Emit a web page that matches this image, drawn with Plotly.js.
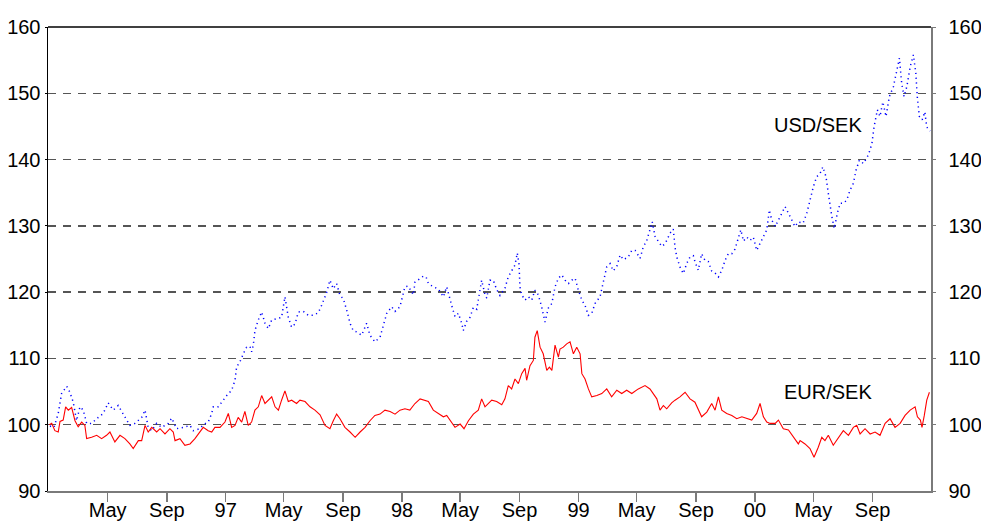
<!DOCTYPE html>
<html>
<head>
<meta charset="utf-8">
<script src="https://cdn.plot.ly/plotly-3.0.1.min.js"></script>
<style>html,body{margin:0;padding:0;background:#fff;}#chart{width:981px;height:525px;}</style>
</head>
<body>
<div id="chart"></div>
<script>
// Time as decimal years
const usdT = [1996.004,1996.027,1996.051,1996.070,1996.099,1996.117,1996.136,1996.155,1996.174,1996.193,1996.212,1996.240,1996.278,1996.306,1996.334,1996.363,1996.391,1996.429,1996.457,1996.486,1996.524,1996.543,1996.561,1996.581,1996.609,1996.637,1996.675,1996.694,1996.722,1996.760,1996.798,1996.816,1996.854,1996.873,1996.901,1996.921,1996.930,1996.958,1996.977,
1997.006,1997.034,1997.053,1997.062,1997.081,1997.100,1997.119,1997.138,1997.147,1997.156,1997.166,1997.185,1997.204,1997.223,1997.242,1997.261,1997.289,1997.317,1997.336,1997.355,1997.374,1997.393,1997.412,1997.440,1997.468,1997.497,1997.525,1997.544,1997.573,1997.591,1997.610,1997.629,1997.648,1997.667,1997.686,1997.705,1997.723,1997.743,1997.771,1997.799,1997.818,1997.846,1997.875,1997.893,1997.913,1997.941,1997.960,1997.988,1997.998,
1998.016,1998.035,1998.064,1998.073,1998.102,1998.120,1998.136,1998.149,1998.177,1998.205,1998.234,1998.253,1998.281,1998.300,1998.319,1998.338,1998.347,1998.366,1998.385,1998.404,1998.423,1998.442,1998.451,1998.470,1998.480,1998.498,1998.517,1998.536,1998.555,1998.583,1998.602,1998.621,1998.640,1998.653,1998.663,1998.668,1998.678,1998.697,1998.716,1998.735,1998.753,1998.772,1998.791,1998.810,1998.829,1998.849,1998.867,1998.886,1998.905,1998.924,1998.943,1998.962,1998.981,1998.999,
1999.019,1999.037,1999.056,1999.075,1999.094,1999.122,1999.141,1999.160,1999.179,1999.197,1999.217,1999.236,1999.254,1999.282,1999.302,1999.321,1999.349,1999.367,1999.387,1999.405,1999.418,1999.434,1999.452,1999.472,1999.491,1999.519,1999.537,1999.547,1999.557,1999.575,1999.594,1999.613,1999.632,1999.651,1999.660,1999.679,1999.698,1999.717,1999.736,1999.755,1999.774,1999.793,1999.812,1999.831,1999.849,1999.869,1999.887,1999.906,1999.920,1999.935,1999.954,1999.972,1999.991,
2000.010,2000.029,2000.048,2000.067,2000.082,2000.095,2000.115,2000.133,2000.152,2000.171,2000.190,2000.209,2000.227,2000.246,2000.273,2000.294,2000.312,2000.331,2000.350,2000.369,2000.385,2000.403,2000.416,2000.426,2000.436,2000.450,2000.467,2000.483,2000.501,2000.521,2000.539,2000.558,2000.573,2000.592,2000.615,2000.643,2000.663,2000.675,2000.694,2000.709,2000.725,2000.743,2000.762,2000.785,2000.804,2000.819,2000.832,2000.845,2000.861,2000.880,2000.898,2000.912,2000.921,2000.932,2000.948,2000.963,2000.974,2000.993];
const usdSek = [99.8,99.6,101.7,104.7,105.8,104.9,103.4,100.6,102.7,102.2,100.2,100.2,101.1,101.7,103.3,102.2,102.9,101.1,99.9,100.2,101.1,102.2,99.6,99.1,100.2,99.6,100.2,101.0,99.4,99.6,99.9,99.1,99.4,100.0,100.4,101.7,102.7,102.7,103.4,
104.4,105.2,106.7,108.7,109.5,110.7,111.7,111.8,111.0,111.9,114.2,115.8,117.0,115.3,114.5,115.8,116.0,116.2,119.3,116.2,114.7,115.2,117.0,117.1,116.5,116.5,116.9,118.0,120.0,121.8,120.5,121.3,119.5,119.0,117.3,115.3,114.2,114.0,113.5,115.3,113.5,112.5,113.2,114.9,116.8,117.8,117.1,117.8,119.0,
120.8,120.9,119.6,121.5,122.0,122.4,122.3,121.3,120.8,120.5,119.3,120.8,118.0,116.3,116.8,115.3,114.2,115.6,116.2,117.7,117.4,120.3,121.8,119.6,119.1,121.8,121.8,120.4,119.5,120.6,122.3,123.2,124.1,125.9,124.2,120.8,119.6,118.8,119.3,118.8,120.3,119.6,117.8,115.5,117.6,118.3,120.8,122.1,122.6,121.8,121.3,121.8,122.1,120.3,
118.8,118.0,116.5,116.8,118.3,119.3,121.8,123.8,124.3,123.2,123.9,125.6,124.9,125.3,126.3,126.3,125.1,126.8,127.8,129.6,130.6,128.4,127.7,126.9,127.3,128.9,129.5,126.8,125.3,123.8,122.8,124.3,125.3,125.5,124.6,123.3,125.8,124.8,124.6,123.2,122.9,122.3,123.3,124.8,125.8,125.8,126.5,128.3,129.4,127.7,128.3,127.8,128.3,
126.3,127.3,128.3,129.4,132.4,130.9,129.9,130.9,131.9,132.9,131.9,130.9,129.9,130.6,130.4,131.9,133.9,135.9,137.4,137.9,138.9,137.4,134.9,132.9,131.4,129.6,131.9,133.4,133.4,133.9,135.4,136.4,138.4,139.9,139.4,140.7,142.4,144.9,147.5,146.5,148.7,146.5,149.5,151.0,153.3,155.3,151.5,149.5,151.0,154.0,155.8,153.0,149.2,146.5,146.0,147.2,144.9,144.3];

const eurT = [1996.000,1996.014,1996.032,1996.051,1996.061,1996.079,1996.093,1996.108,1996.127,1996.146,1996.164,1996.184,1996.202,1996.212,1996.240,1996.269,1996.297,1996.325,1996.344,1996.372,1996.401,1996.429,1996.457,1996.476,1996.505,1996.524,1996.543,1996.561,1996.581,1996.609,1996.628,1996.656,1996.684,1996.703,1996.713,1996.741,1996.769,1996.798,1996.826,1996.854,1996.873,1996.901,1996.921,1996.939,1996.968,1996.996,
1997.015,1997.034,1997.053,1997.071,1997.091,1997.109,1997.128,1997.147,1997.166,1997.185,1997.204,1997.223,1997.242,1997.261,1997.280,1997.299,1997.317,1997.336,1997.355,1997.374,1997.402,1997.421,1997.450,1997.478,1997.506,1997.535,1997.563,1997.591,1997.610,1997.629,1997.648,1997.676,1997.705,1997.734,1997.762,1997.790,1997.818,1997.846,1997.875,1997.903,1997.932,1997.960,1997.988,
1998.016,1998.044,1998.073,1998.102,1998.130,1998.149,1998.177,1998.205,1998.234,1998.253,1998.281,1998.300,1998.329,1998.351,1998.376,1998.404,1998.432,1998.451,1998.470,1998.489,1998.508,1998.536,1998.565,1998.583,1998.602,1998.621,1998.640,1998.659,1998.678,1998.697,1998.706,1998.725,1998.744,1998.753,1998.766,1998.782,1998.800,1998.820,1998.835,1998.849,1998.867,1998.886,1998.895,1998.914,1998.933,1998.952,1998.971,1998.990,
1999.009,1999.019,1999.037,1999.056,1999.075,1999.104,1999.132,1999.160,1999.188,1999.217,1999.245,1999.273,1999.302,1999.339,1999.377,1999.405,1999.424,1999.444,1999.462,1999.481,1999.500,1999.528,1999.547,1999.575,1999.604,1999.632,1999.660,1999.698,1999.727,1999.755,1999.774,1999.793,1999.812,1999.840,1999.869,1999.897,1999.926,1999.954,1999.982,
2000.010,2000.029,2000.048,2000.067,2000.086,2000.115,2000.133,2000.161,2000.190,2000.218,2000.246,2000.256,2000.284,2000.312,2000.335,2000.359,2000.379,2000.397,2000.416,2000.444,2000.473,2000.501,2000.530,2000.558,2000.577,2000.596,2000.624,2000.653,2000.681,2000.709,2000.738,2000.766,2000.794,2000.823,2000.851,2000.880,2000.908,2000.921,2000.938,2000.947,2000.960,2000.974,2000.989];
const eurSek = [100.0,100.2,99.1,98.9,100.5,100.7,102.7,102.2,102.6,100.6,99.7,100.4,99.9,97.9,98.1,98.4,97.9,98.4,98.9,97.4,98.4,97.9,97.1,96.4,97.6,97.6,99.9,98.9,99.6,98.9,99.4,98.6,99.4,98.9,97.6,97.9,96.9,97.1,97.9,98.9,99.6,99.1,98.9,99.6,99.6,100.4,
101.7,99.6,99.9,101.1,100.4,102.0,99.9,100.4,102.2,102.7,104.4,103.2,103.7,104.2,102.7,102.2,103.7,105.1,103.5,103.7,103.2,103.7,103.5,102.7,102.2,101.5,99.9,99.4,100.6,101.6,100.9,99.6,98.9,98.1,98.9,99.6,100.6,101.4,101.6,102.2,102.0,101.6,102.2,
102.4,102.2,103.2,103.9,103.7,103.5,102.2,101.7,101.2,101.4,100.4,99.6,100.1,99.4,100.6,101.6,102.2,103.9,102.7,103.2,103.7,103.5,103.0,103.9,105.9,105.4,106.9,106.2,107.7,108.5,106.7,108.9,109.7,113.2,114.2,111.7,110.7,108.2,108.7,108.2,112.0,110.2,111.4,111.7,112.2,112.5,110.7,111.7,
110.7,107.7,106.9,105.4,104.2,104.4,104.7,105.4,104.2,105.2,104.7,105.2,104.7,105.4,105.9,105.4,104.7,103.9,102.2,102.9,102.4,103.3,103.7,104.2,104.9,103.9,103.4,101.2,101.9,103.2,102.2,104.2,102.2,101.7,101.4,100.9,101.2,100.9,100.7,
101.7,103.2,101.2,100.4,100.2,100.2,100.7,99.4,99.2,98.1,97.1,97.6,97.1,96.4,95.1,96.6,98.1,97.6,98.4,96.9,98.1,99.1,98.4,99.6,99.9,98.6,99.4,98.6,98.9,98.4,100.2,100.9,99.6,100.2,101.4,102.2,102.7,101.2,100.7,99.6,101.4,103.7,104.9];

const yTicks = [90,100,110,120,130,140,150,160];
const xTickVals = [1996.331,1996.667,1997.0,1997.329,1997.666,1998.0,1998.329,1998.666,1999.0,1999.329,1999.666,2000.0,2000.331,2000.667];
const xTickText = ["May","Sep","97","May","Sep","98","May","Sep","99","May","Sep","00","May","Sep"];
const seriesNames = ["USD/SEK","EUR/SEK"];

const FONT = "Arial, 'Liberation Sans', sans-serif";

const traces = [
  {x: usdT, y: usdSek, type: "scatter", mode: "lines", name: seriesNames[0],
   line: {color: "#0000ff", width: 1.5, dash: "1.2px,3.6px"}, xaxis: "x", yaxis: "y", hoverinfo: "skip"},
  {x: eurT, y: eurSek, type: "scatter", mode: "lines", name: seriesNames[1],
   line: {color: "#ff0000", width: 1.1}, xaxis: "x", yaxis: "y2", hoverinfo: "skip"}
];

const layout = {
  width: 981, height: 525,
  margin: {l: 48, r: 50, t: 27, b: 34, pad: 0},
  paper_bgcolor: "#ffffff", plot_bgcolor: "#ffffff",
  showlegend: false,
  font: {family: FONT, size: 20, color: "#000"},
  xaxis: {
    type: "linear", range: [1995.993, 2000.998], autorange: false,
    tickmode: "array", tickvals: xTickVals, ticktext: xTickText,
    showgrid: false, zeroline: false,
    showline: true, linecolor: "#7a7a7a", linewidth: 2,
    ticks: "outside", ticklen: 9, tickwidth: 1.5, tickcolor: "#7a7a7a",
    ticklabelstandoff: -9,
    tickfont: {family: FONT, size: 20, color: "#000"}, automargin: false
  },
  yaxis: {
    range: [90, 160], autorange: false,
    tickmode: "array", tickvals: yTicks,
    showgrid: true, gridcolor: "#555555", gridwidth: 1.5, griddash: "8px,7px",
    zeroline: false,
    showline: true, linecolor: "#000", linewidth: 1.5,
    ticks: "outside", ticklen: 2, tickwidth: 1, tickcolor: "#000",
    tickfont: {family: FONT, size: 20, color: "#000"}, automargin: false
  },
  yaxis2: {
    overlaying: "y", side: "right", anchor: "x",
    range: [90, 160], autorange: false,
    tickmode: "array", tickvals: yTicks,
    showgrid: false, zeroline: false,
    showline: true, linecolor: "#7a7a7a", linewidth: 1.5,
    ticks: "outside", ticklen: 3, tickwidth: 1, tickcolor: "#7a7a7a",
    ticklabelstandoff: 9,
    tickfont: {family: FONT, size: 20, color: "#000"}, automargin: false
  },
  shapes: [
    {type: "line", xref: "paper", yref: "paper", x0: 0, x1: 1, y0: 1, y1: 1,
     line: {color: "#000", width: 1.5}, layer: "above"}
  ],
  annotations: [
    {x: 2000.356, y: 145.2, xref: "x", yref: "y", text: seriesNames[0], showarrow: false,
     font: {family: FONT, size: 20, color: "#000"}, xanchor: "center", yanchor: "middle"},
    {x: 2000.414, y: 104.95, xref: "x", yref: "y", text: seriesNames[1], showarrow: false,
     font: {family: FONT, size: 20, color: "#000"}, xanchor: "center", yanchor: "middle"}
  ]
};

Plotly.newPlot("chart", traces, layout, {staticPlot: true, displayModeBar: false});
</script>
</body>
</html>
